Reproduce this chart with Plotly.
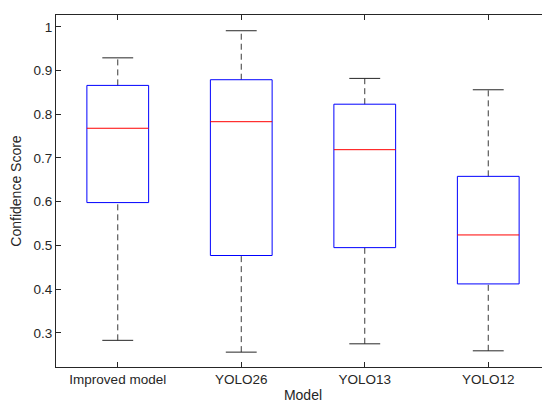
import plotly.graph_objects as go

# box statistics
models = ["Improved model", "YOLO26", "YOLO13", "YOLO12"]
lower_whisker = [0.283, 0.256, 0.275, 0.259]
q1 = [0.598, 0.477, 0.495, 0.412]
median = [0.768, 0.783, 0.719, 0.524]
q3 = [0.866, 0.879, 0.823, 0.658]
upper_whisker = [0.929, 0.991, 0.882, 0.856]

box_half = 0.25
cap_half = 0.125

fig = go.Figure()

for i, name in enumerate(models):
    x = i + 1
    # whiskers (dashed)
    fig.add_scatter(x=[x, x], y=[q3[i], upper_whisker[i]], mode="lines",
                    line=dict(color="#3a3a3a", width=1, dash="6px,4px"), showlegend=False, hoverinfo="skip")
    fig.add_scatter(x=[x, x], y=[lower_whisker[i], q1[i]], mode="lines",
                    line=dict(color="#3a3a3a", width=1, dash="6px,4px"), showlegend=False, hoverinfo="skip")
    # caps
    fig.add_scatter(x=[x - cap_half, x + cap_half], y=[upper_whisker[i]] * 2, mode="lines",
                    line=dict(color="#262626", width=1), showlegend=False, hoverinfo="skip")
    fig.add_scatter(x=[x - cap_half, x + cap_half], y=[lower_whisker[i]] * 2, mode="lines",
                    line=dict(color="#262626", width=1), showlegend=False, hoverinfo="skip")
    # box
    fig.add_scatter(x=[x - box_half, x + box_half, x + box_half, x - box_half, x - box_half],
                    y=[q1[i], q1[i], q3[i], q3[i], q1[i]], mode="lines",
                    line=dict(color="#0000ff", width=1), showlegend=False, name=name)
    # median
    fig.add_scatter(x=[x - box_half, x + box_half], y=[median[i]] * 2, mode="lines",
                    line=dict(color="#ff0000", width=1), showlegend=False, hoverinfo="skip")

axis_style = dict(showline=True, linecolor="#262626", linewidth=1, mirror="ticks",
                  ticks="inside", ticklen=5, tickcolor="#262626", showgrid=False, zeroline=False,
                  automargin=False, tickfont=dict(size=13.5, color="#262626"))

fig.update_layout(
    width=550, height=405,
    margin=dict(l=48, r=8, t=7, b=46),
    plot_bgcolor="white", paper_bgcolor="white",
    font=dict(family="Liberation Sans, Arial, sans-serif", size=13.5, color="#262626"),
    xaxis=dict(range=[0.5, 4.5], tickvals=[1, 2, 3, 4], ticktext=models,
               title=dict(text="Model", standoff=3, font=dict(size=14)), **axis_style),
    yaxis=dict(range=[0.222, 1.027], tickvals=[0.3, 0.4, 0.5, 0.6, 0.7, 0.8, 0.9, 1],
               ticktext=["0.3", "0.4", "0.5", "0.6", "0.7", "0.8", "0.9", "1"],
               title=dict(text="Confidence Score", standoff=11, font=dict(size=14)), **axis_style),
)

fig.write_html("out.html")
